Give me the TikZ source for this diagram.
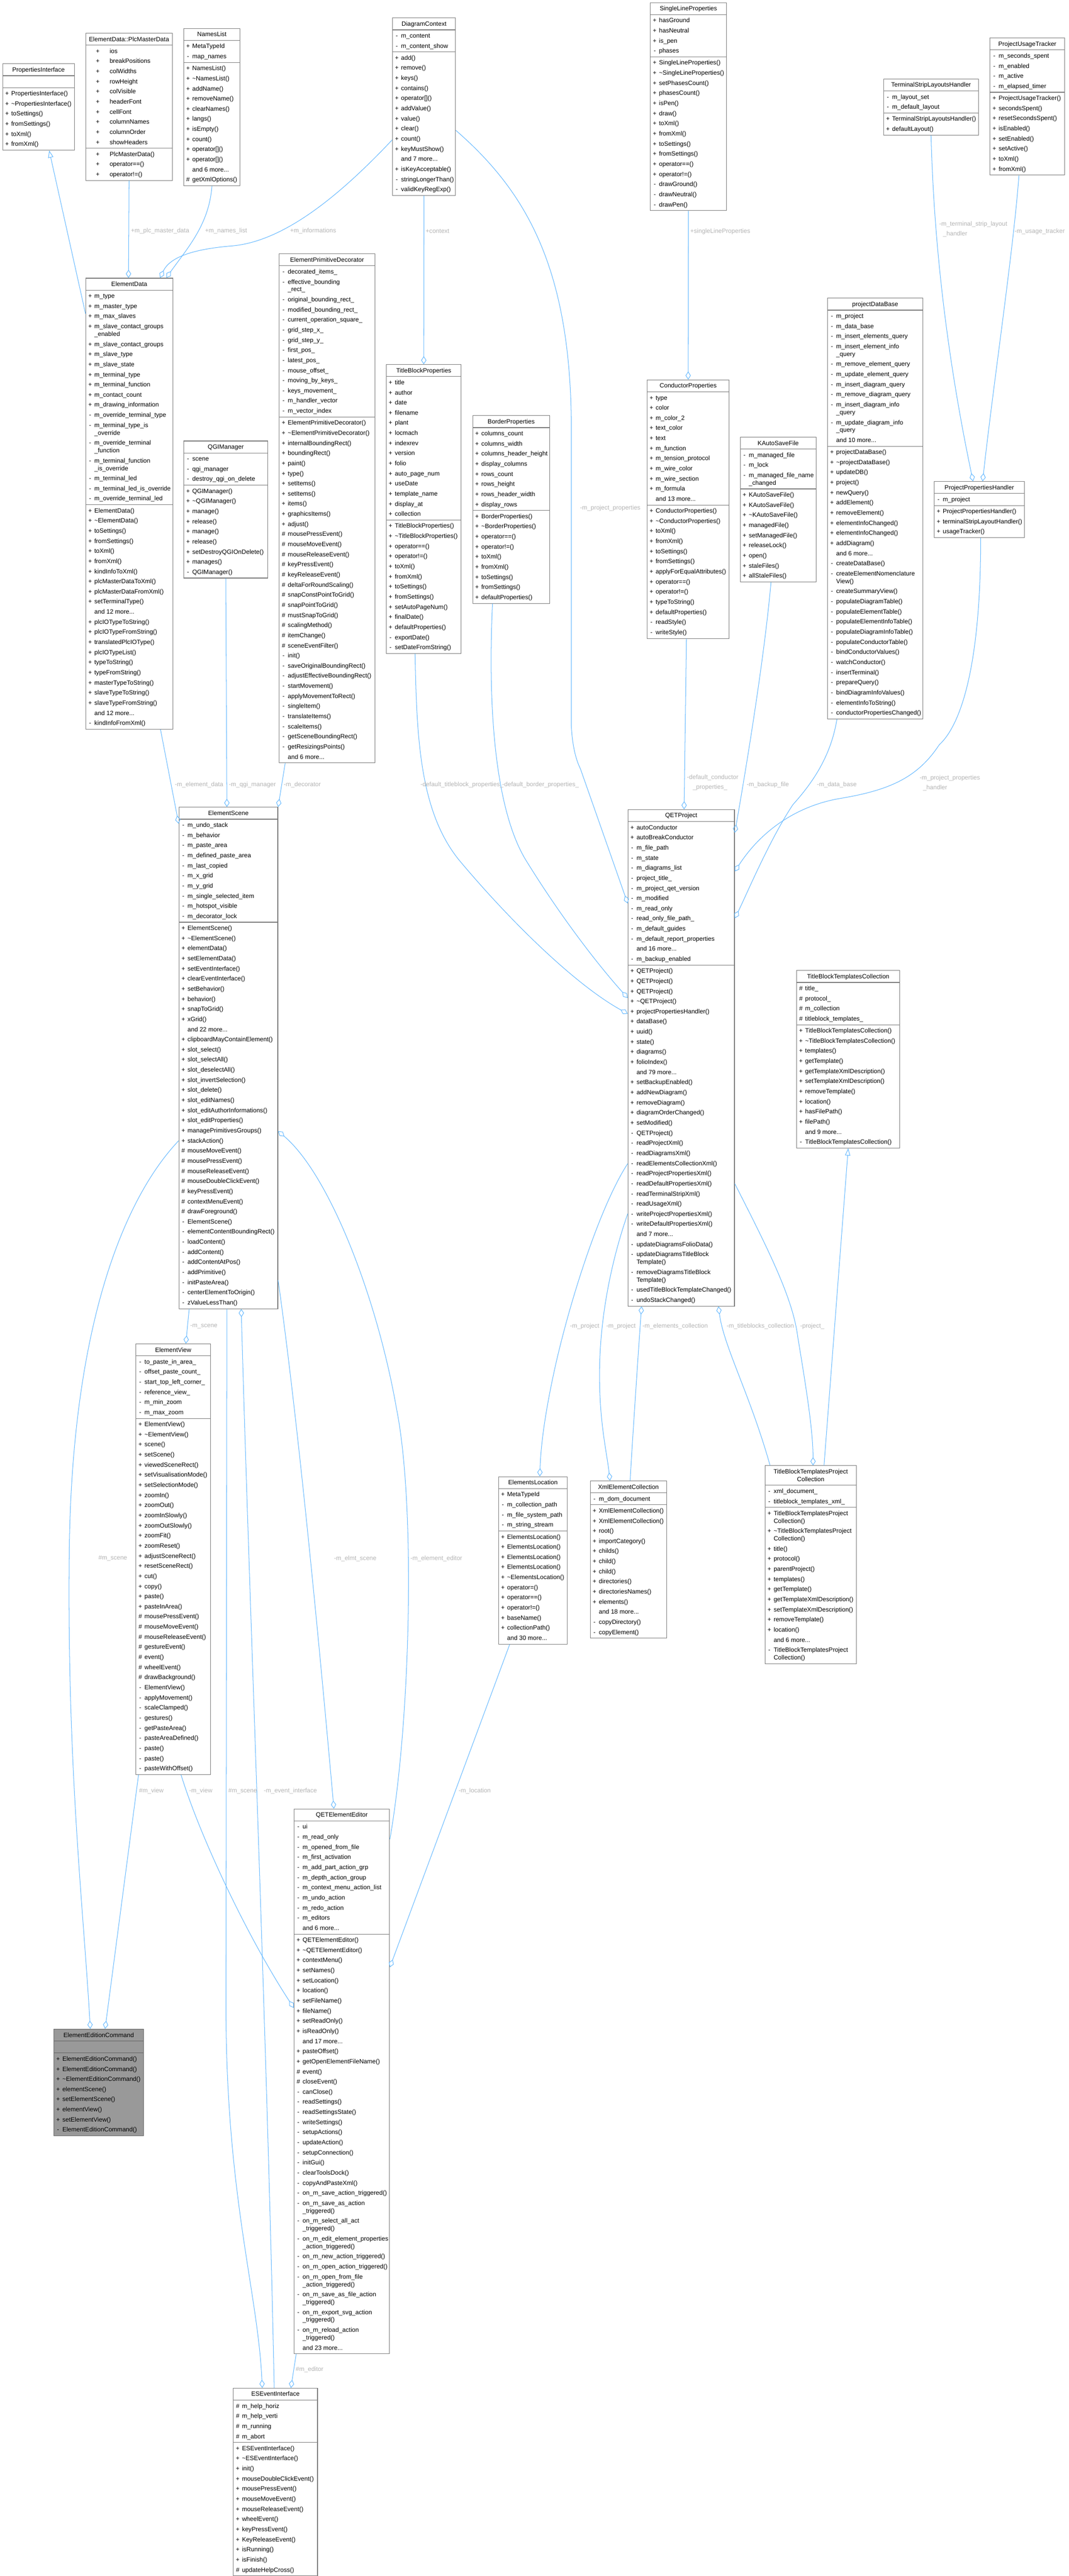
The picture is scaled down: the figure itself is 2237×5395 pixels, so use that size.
\documentclass[tikz,border=0pt]{standalone}
\usepackage{fontspec}
\setmainfont{Liberation Sans}
\usetikzlibrary{shapes.multipart,arrows.meta,calc}
\definecolor{boxc}{HTML}{7A7A7A}
\definecolor{edgec}{HTML}{63B8FF}
\definecolor{lblc}{HTML}{B4B4B4}
\definecolor{curc}{HTML}{999999}
\newcommand\clsfont{\fontsize{13}{21.2}\selectfont}
\newdimen\cwid
\newcommand\R[2]{\hbox to\hsize{\strut\makebox[8pt][c]{#1}\hspace{5pt}#2\hss}}
\newcommand\RW[3]{\R{#1}{#2}\vskip-5.2pt\R{}{#3}}
\newcommand\Rp[1]{\R{+}{#1}}
\newcommand\Rm[1]{\R{-}{#1}}
\newcommand\Rh[1]{\R{\#}{#1}}
\newcommand\Rn[1]{\R{}{#1}}
\newcommand\RQ[2]{\hbox to\hsize{\strut\hspace{15pt}\makebox[10pt][c]{#1}\hspace{20pt}#2\hss}}
\newcommand\E{\hbox to\hsize{\strut\hss}}
\newcommand\TT[1]{\hbox to\hsize{\hss\strut#1\hss}}
\newcommand\PB[1]{\vbox{\clsfont\hsize=\cwid #1}}
\tikzset{
  cls/.style={rectangle split, rectangle split parts=3, draw=boxc, line width=1.2pt,
    fill=white, anchor=north west, inner xsep=5pt, inner ysep=1.3pt, font=\clsfont},
  cur/.style={fill=curc, draw=boxc!80!black},
  edge/.style={draw=edgec, line width=1.1pt},
  agg/.style={edge, -{Diamond[open,length=17pt,width=11pt]}},
  inh/.style={edge, -{Triangle[open,length=15pt,width=11pt]}},
  lbl/.style={font=\clsfont, text=lblc, inner sep=0pt, anchor=west, align=left}
}
\newcommand\umlc[7]{\cwid=\dimexpr#4pt-10pt\relax
  \node[cls] (#1) at (#2,#3) {\PB{#5}\nodepart{two}\PB{#6}\nodepart{three}\PB{#7}};}
\newcommand\umlcg[7]{\cwid=\dimexpr#4pt-10pt\relax
  \node[cls,cur] (#1) at (#2,#3) {\PB{#5}\nodepart{two}\PB{#6}\nodepart{three}\PB{#7}};}
\begin{document}
\catcode`\_=12 \catcode`\~=12
\begin{tikzpicture}[x=1pt,y=-1pt]
\fill[white] (0,0) rectangle (2237,5395);
\useasboundingbox (0,0) rectangle (2237,5395);

% ---------------- classes ----------------
\umlc{PI}{5}{133}{150}{\TT{PropertiesInterface}}{\E}{\Rp{PropertiesInterface()}\Rp{~PropertiesInterface()}\Rp{toSettings()}\Rp{fromSettings()}\Rp{toXml()}\Rp{fromXml()}}

\umlc{PMD}{179}{69}{181}{\TT{ElementData::PlcMasterData}}{\RQ{+}{ios}\RQ{+}{breakPositions}\RQ{+}{colWidths}\RQ{+}{rowHeight}\RQ{+}{colVisible}\RQ{+}{headerFont}\RQ{+}{cellFont}\RQ{+}{columnNames}\RQ{+}{columnOrder}\RQ{+}{showHeaders}}{\RQ{+}{PlcMasterData()}\RQ{+}{operator==()}\RQ{+}{operator!=()}}

\umlc{NL}{384}{59}{118}{\TT{NamesList}}{\Rp{MetaTypeId}\Rm{map_names}}{\Rp{NamesList()}\Rp{~NamesList()}\Rp{addName()}\Rp{removeName()}\Rp{clearNames()}\Rp{langs()}\Rp{isEmpty()}\Rp{count()}\Rp{operator[]()}\Rp{operator[]()}\Rn{and 6 more...}\Rh{getXmlOptions()}}

\umlc{DC}{821}{37}{132}{\TT{DiagramContext}}{\Rm{m_content}\Rm{m_content_show}}{\Rp{add()}\Rp{remove()}\Rp{keys()}\Rp{contains()}\Rp{operator[]()}\Rp{addValue()}\Rp{value()}\Rp{clear()}\Rp{count()}\Rp{keyMustShow()}\Rn{and 7 more...}\Rp{isKeyAcceptable()}\Rm{stringLongerThan()}\Rm{validKeyRegExp()}}

\umlc{SLP}{1361}{5}{159}{\TT{SingleLineProperties}}{\Rp{hasGround}\Rp{hasNeutral}\Rp{is_pen}\Rm{phases}}{\Rp{SingleLineProperties()}\Rp{~SingleLineProperties()}\Rp{setPhasesCount()}\Rp{phasesCount()}\Rp{isPen()}\Rp{draw()}\Rp{toXml()}\Rp{fromXml()}\Rp{toSettings()}\Rp{fromSettings()}\Rp{operator==()}\Rp{operator!=()}\Rm{drawGround()}\Rm{drawNeutral()}\Rm{drawPen()}}

\umlc{TSLH}{1849}{165}{199}{\TT{TerminalStripLayoutsHandler}}{\Rm{m_layout_set}\Rm{m_default_layout}}{\Rp{TerminalStripLayoutsHandler()}\Rp{defaultLayout()}}

\umlc{PUT}{2072}{79}{156}{\TT{ProjectUsageTracker}}{\Rm{m_seconds_spent}\Rm{m_enabled}\Rm{m_active}\Rm{m_elapsed_timer}}{\Rp{ProjectUsageTracker()}\Rp{secondsSpent()}\Rp{resetSecondsSpent()}\Rp{isEnabled()}\Rp{setEnabled()}\Rp{setActive()}\Rp{toXml()}\Rp{fromXml()}}

\umlc{ED}{179}{582}{182}{\TT{ElementData}}{\Rp{m_type}\Rp{m_master_type}\Rp{m_max_slaves}\RW{+}{m_slave_contact_groups}{_enabled}\Rp{m_slave_contact_groups}\Rp{m_slave_type}\Rp{m_slave_state}\Rp{m_terminal_type}\Rp{m_terminal_function}\Rp{m_contact_count}\Rp{m_drawing_information}\Rm{m_override_terminal_type}\RW{-}{m_terminal_type_is}{_override}\RW{-}{m_override_terminal}{_function}\RW{-}{m_terminal_function}{_is_override}\Rm{m_terminal_led}\Rm{m_terminal_led_is_override}\Rm{m_override_terminal_led}}{\Rp{ElementData()}\Rp{~ElementData()}\Rp{toSettings()}\Rp{fromSettings()}\Rp{toXml()}\Rp{fromXml()}\Rp{kindInfoToXml()}\Rp{plcMasterDataToXml()}\Rp{plcMasterDataFromXml()}\Rp{setTerminalType()}\Rn{and 12 more...}\Rp{plcIOTypeToString()}\Rp{plcIOTypeFromString()}\Rp{translatedPlcIOType()}\Rp{plcIOTypeList()}\Rp{typeToString()}\Rp{typeFromString()}\Rp{masterTypeToString()}\Rp{slaveTypeToString()}\Rp{slaveTypeFromString()}\Rn{and 12 more...}\Rm{kindInfoFromXml()}}

\umlc{QGI}{384}{923}{176}{\TT{QGIManager}}{\Rm{scene}\Rm{qgi_manager}\Rm{destroy_qgi_on_delete}}{\Rp{QGIManager()}\Rp{~QGIManager()}\Rp{manage()}\Rp{release()}\Rp{manage()}\Rp{release()}\Rp{setDestroyQGIOnDelete()}\Rp{manages()}\Rm{QGIManager()}}

\umlc{EPD}{584}{531}{200}{\TT{ElementPrimitiveDecorator}}{\Rm{decorated_items_}\RW{-}{effective_bounding}{_rect_}\Rm{original_bounding_rect_}\Rm{modified_bounding_rect_}\Rm{current_operation_square_}\Rm{grid_step_x_}\Rm{grid_step_y_}\Rm{first_pos_}\Rm{latest_pos_}\Rm{mouse_offset_}\Rm{moving_by_keys_}\Rm{keys_movement_}\Rm{m_handler_vector}\Rm{m_vector_index}}{\Rp{ElementPrimitiveDecorator()}\Rp{~ElementPrimitiveDecorator()}\Rp{internalBoundingRect()}\Rp{boundingRect()}\Rp{paint()}\Rp{type()}\Rp{setItems()}\Rp{setItems()}\Rp{items()}\Rp{graphicsItems()}\Rp{adjust()}\Rh{mousePressEvent()}\Rh{mouseMoveEvent()}\Rh{mouseReleaseEvent()}\Rh{keyPressEvent()}\Rh{keyReleaseEvent()}\Rh{deltaForRoundScaling()}\Rh{snapConstPointToGrid()}\Rh{snapPointToGrid()}\Rh{mustSnapToGrid()}\Rh{scalingMethod()}\Rh{itemChange()}\Rh{sceneEventFilter()}\Rm{init()}\Rm{saveOriginalBoundingRect()}\Rm{adjustEffectiveBoundingRect()}\Rm{startMovement()}\Rm{applyMovementToRect()}\Rm{singleItem()}\Rm{translateItems()}\Rm{scaleItems()}\Rm{getSceneBoundingRect()}\Rm{getResizingsPoints()}\Rn{and 6 more...}}

\umlc{TBP}{808}{763}{157}{\TT{TitleBlockProperties}}{\Rp{title}\Rp{author}\Rp{date}\Rp{filename}\Rp{plant}\Rp{locmach}\Rp{indexrev}\Rp{version}\Rp{folio}\Rp{auto_page_num}\Rp{useDate}\Rp{template_name}\Rp{display_at}\Rp{collection}}{\Rp{TitleBlockProperties()}\Rp{~TitleBlockProperties()}\Rp{operator==()}\Rp{operator!=()}\Rp{toXml()}\Rp{fromXml()}\Rp{toSettings()}\Rp{fromSettings()}\Rp{setAutoPageNum()}\Rp{finalDate()}\Rp{defaultProperties()}\Rm{exportDate()}\Rm{setDateFromString()}}

\umlc{BP}{989}{870}{161}{\TT{BorderProperties}}{\Rp{columns_count}\Rp{columns_width}\Rp{columns_header_height}\Rp{display_columns}\Rp{rows_count}\Rp{rows_height}\Rp{rows_header_width}\Rp{display_rows}}{\Rp{BorderProperties()}\Rp{~BorderProperties()}\Rp{operator==()}\Rp{operator!=()}\Rp{toXml()}\Rp{fromXml()}\Rp{toSettings()}\Rp{fromSettings()}\Rp{defaultProperties()}}

\umlc{CP}{1354}{795}{172}{\TT{ConductorProperties}}{\Rp{type}\Rp{color}\Rp{m_color_2}\Rp{text_color}\Rp{text}\Rp{m_function}\Rp{m_tension_protocol}\Rp{m_wire_color}\Rp{m_wire_section}\Rp{m_formula}\Rn{and 13 more...}}{\Rp{ConductorProperties()}\Rp{~ConductorProperties()}\Rp{toXml()}\Rp{fromXml()}\Rp{toSettings()}\Rp{fromSettings()}\Rp{applyForEqualAttributes()}\Rp{operator==()}\Rp{operator!=()}\Rp{typeToString()}\Rp{defaultProperties()}\Rm{readStyle()}\Rm{writeStyle()}}

\umlc{KAS}{1549}{915}{159}{\TT{KAutoSaveFile}}{\Rm{m_managed_file}\Rm{m_lock}\RW{-}{m_managed_file_name}{_changed}}{\Rp{KAutoSaveFile()}\Rp{KAutoSaveFile()}\Rp{~KAutoSaveFile()}\Rp{managedFile()}\Rp{setManagedFile()}\Rp{releaseLock()}\Rp{open()}\Rp{staleFiles()}\Rp{allStaleFiles()}}

\umlc{PDB}{1732}{624}{199}{\TT{projectDataBase}}{\Rm{m_project}\Rm{m_data_base}\Rm{m_insert_elements_query}\RW{-}{m_insert_element_info}{_query}\Rm{m_remove_element_query}\Rm{m_update_element_query}\Rm{m_insert_diagram_query}\Rm{m_remove_diagram_query}\RW{-}{m_insert_diagram_info}{_query}\RW{-}{m_update_diagram_info}{_query}\Rn{and 10 more...}}{\Rp{projectDataBase()}\Rp{~projectDataBase()}\Rp{updateDB()}\Rp{project()}\Rp{newQuery()}\Rp{addElement()}\Rp{removeElement()}\Rp{elementInfoChanged()}\Rp{elementInfoChanged()}\Rp{addDiagram()}\Rn{and 6 more...}\Rm{createDataBase()}\RW{-}{createElementNomenclature}{View()}\Rm{createSummaryView()}\Rm{populateDiagramTable()}\Rm{populateElementTable()}\Rm{populateElementInfoTable()}\Rm{populateDiagramInfoTable()}\Rm{populateConductorTable()}\Rm{bindConductorValues()}\Rm{watchConductor()}\Rm{insertTerminal()}\Rm{prepareQuery()}\Rm{bindDiagramInfoValues()}\Rm{elementInfoToString()}\Rm{conductorPropertiesChanged()}}

\umlc{PPH}{1955}{1008}{189}{\TT{ProjectPropertiesHandler}}{\Rm{m_project}}{\Rp{ProjectPropertiesHandler()}\Rp{terminalStripLayoutHandler()}\Rp{usageTracker()}}

\umlc{ES}{374}{1690}{207}{\TT{ElementScene}}{\Rm{m_undo_stack}\Rm{m_behavior}\Rm{m_paste_area}\Rm{m_defined_paste_area}\Rm{m_last_copied}\Rm{m_x_grid}\Rm{m_y_grid}\Rm{m_single_selected_item}\Rm{m_hotspot_visible}\Rm{m_decorator_lock}}{\Rp{ElementScene()}\Rp{~ElementScene()}\Rp{elementData()}\Rp{setElementData()}\Rp{setEventInterface()}\Rp{clearEventInterface()}\Rp{setBehavior()}\Rp{behavior()}\Rp{snapToGrid()}\Rp{xGrid()}\Rn{and 22 more...}\Rp{clipboardMayContainElement()}\Rp{slot_select()}\Rp{slot_selectAll()}\Rp{slot_deselectAll()}\Rp{slot_invertSelection()}\Rp{slot_delete()}\Rp{slot_editNames()}\Rp{slot_editAuthorInformations()}\Rp{slot_editProperties()}\Rp{managePrimitivesGroups()}\Rp{stackAction()}\Rh{mouseMoveEvent()}\Rh{mousePressEvent()}\Rh{mouseReleaseEvent()}\Rh{mouseDoubleClickEvent()}\Rh{keyPressEvent()}\Rh{contextMenuEvent()}\Rh{drawForeground()}\Rm{ElementScene()}\Rm{elementContentBoundingRect()}\Rm{loadContent()}\Rm{addContent()}\Rm{addContentAtPos()}\Rm{addPrimitive()}\Rm{initPasteArea()}\Rm{centerElementToOrigin()}\Rm{zValueLessThan()}}

\umlc{QP}{1314}{1695}{223}{\TT{QETProject}}{\Rp{autoConductor}\Rp{autoBreakConductor}\Rm{m_file_path}\Rm{m_state}\Rm{m_diagrams_list}\Rm{project_title_}\Rm{m_project_qet_version}\Rm{m_modified}\Rm{m_read_only}\Rm{read_only_file_path_}\Rm{m_default_guides}\Rm{m_default_report_properties}\Rn{and 16 more...}\Rm{m_backup_enabled}}{\Rp{QETProject()}\Rp{QETProject()}\Rp{QETProject()}\Rp{~QETProject()}\Rp{projectPropertiesHandler()}\Rp{dataBase()}\Rp{uuid()}\Rp{state()}\Rp{diagrams()}\Rp{folioIndex()}\Rn{and 79 more...}\Rp{setBackupEnabled()}\Rp{addNewDiagram()}\Rp{removeDiagram()}\Rp{diagramOrderChanged()}\Rp{setModified()}\Rm{QETProject()}\Rm{readProjectXml()}\Rm{readDiagramsXml()}\Rm{readElementsCollectionXml()}\Rm{readProjectPropertiesXml()}\Rm{readDefaultPropertiesXml()}\Rm{readTerminalStripXml()}\Rm{readUsageXml()}\Rm{writeProjectPropertiesXml()}\Rm{writeDefaultPropertiesXml()}\Rn{and 7 more...}\Rm{updateDiagramsFolioData()}\RW{-}{updateDiagramsTitleBlock}{Template()}\RW{-}{removeDiagramsTitleBlock}{Template()}\Rm{usedTitleBlockTemplateChanged()}\Rm{undoStackChanged()}}

\umlc{TBTC}{1667}{2032}{216}{\TT{TitleBlockTemplatesCollection}}{\Rh{title_}\Rh{protocol_}\Rh{m_collection}\Rh{titleblock_templates_}}{\Rp{TitleBlockTemplatesCollection()}\Rp{~TitleBlockTemplatesCollection()}\Rp{templates()}\Rp{getTemplate()}\Rp{getTemplateXmlDescription()}\Rp{setTemplateXmlDescription()}\Rp{removeTemplate()}\Rp{location()}\Rp{hasFilePath()}\Rp{filePath()}\Rn{and 9 more...}\Rm{TitleBlockTemplatesCollection()}}

\umlc{EV}{284}{2814}{156}{\TT{ElementView}}{\Rm{to_paste_in_area_}\Rm{offset_paste_count_}\Rm{start_top_left_corner_}\Rm{reference_view_}\Rm{m_min_zoom}\Rm{m_max_zoom}}{\Rp{ElementView()}\Rp{~ElementView()}\Rp{scene()}\Rp{setScene()}\Rp{viewedSceneRect()}\Rp{setVisualisationMode()}\Rp{setSelectionMode()}\Rp{zoomIn()}\Rp{zoomOut()}\Rp{zoomInSlowly()}\Rp{zoomOutSlowly()}\Rp{zoomFit()}\Rp{zoomReset()}\Rp{adjustSceneRect()}\Rp{resetSceneRect()}\Rp{cut()}\Rp{copy()}\Rp{paste()}\Rp{pasteInArea()}\Rh{mousePressEvent()}\Rh{mouseMoveEvent()}\Rh{mouseReleaseEvent()}\Rh{gestureEvent()}\Rh{event()}\Rh{wheelEvent()}\Rh{drawBackground()}\Rm{ElementView()}\Rm{applyMovement()}\Rm{scaleClamped()}\Rm{gestures()}\Rm{getPasteArea()}\Rm{pasteAreaDefined()}\Rm{paste()}\Rm{paste()}\Rm{pasteWithOffset()}}

\umlc{EL}{1043}{3092}{144}{\TT{ElementsLocation}}{\Rp{MetaTypeId}\Rm{m_collection_path}\Rm{m_file_system_path}\Rm{m_string_stream}}{\Rp{ElementsLocation()}\Rp{ElementsLocation()}\Rp{ElementsLocation()}\Rp{ElementsLocation()}\Rp{~ElementsLocation()}\Rp{operator=()}\Rp{operator==()}\Rp{operator!=()}\Rp{baseName()}\Rp{collectionPath()}\Rn{and 30 more...}}

\umlc{XEC}{1235}{3101}{160}{\TT{XmlElementCollection}}{\Rm{m_dom_document}}{\Rp{XmlElementCollection()}\Rp{XmlElementCollection()}\Rp{root()}\Rp{importCategory()}\Rp{childs()}\Rp{child()}\Rp{child()}\Rp{directories()}\Rp{directoriesNames()}\Rp{elements()}\Rn{and 18 more...}\Rm{copyDirectory()}\Rm{copyElement()}}

\umlc{TBTPC}{1601}{3069}{191}{\TT{TitleBlockTemplatesProject}\vskip-5.2pt\TT{Collection}}{\Rm{xml_document_}\Rm{titleblock_templates_xml_}}{\RW{+}{TitleBlockTemplatesProject}{Collection()}\RW{+}{~TitleBlockTemplatesProject}{Collection()}\Rp{title()}\Rp{protocol()}\Rp{parentProject()}\Rp{templates()}\Rp{getTemplate()}\Rp{getTemplateXmlDescription()}\Rp{setTemplateXmlDescription()}\Rp{removeTemplate()}\Rp{location()}\Rn{and 6 more...}\RW{-}{TitleBlockTemplatesProject}{Collection()}}

\umlc{QEE}{615}{3788}{200}{\TT{QETElementEditor}}{\Rm{ui}\Rm{m_read_only}\Rm{m_opened_from_file}\Rm{m_first_activation}\Rm{m_add_part_action_grp}\Rm{m_depth_action_group}\Rm{m_context_menu_action_list}\Rm{m_undo_action}\Rm{m_redo_action}\Rm{m_editors}\Rn{and 6 more...}}{\Rp{QETElementEditor()}\Rp{~QETElementEditor()}\Rp{contextMenu()}\Rp{setNames()}\Rp{setLocation()}\Rp{location()}\Rp{setFileName()}\Rp{fileName()}\Rp{setReadOnly()}\Rp{isReadOnly()}\Rn{and 17 more...}\Rp{pasteOffset()}\Rp{getOpenElementFileName()}\Rh{event()}\Rh{closeEvent()}\Rm{canClose()}\Rm{readSettings()}\Rm{readSettingsState()}\Rm{writeSettings()}\Rm{setupActions()}\Rm{updateAction()}\Rm{setupConnection()}\Rm{initGui()}\Rm{clearToolsDock()}\Rm{copyAndPasteXml()}\Rm{on_m_save_action_triggered()}\RW{-}{on_m_save_as_action}{_triggered()}\RW{-}{on_m_select_all_act}{_triggered()}\RW{-}{on_m_edit_element_properties}{_action_triggered()}\Rm{on_m_new_action_triggered()}\Rm{on_m_open_action_triggered()}\RW{-}{on_m_open_from_file}{_action_triggered()}\RW{-}{on_m_save_as_file_action}{_triggered()}\RW{-}{on_m_export_svg_action}{_triggered()}\RW{-}{on_m_reload_action}{_triggered()}\Rn{and 23 more...}}

\umlcg{EEC}{112}{4249}{188}{\TT{ElementEditionCommand}}{\E}{\Rp{ElementEditionCommand()}\Rp{ElementEditionCommand()}\Rp{~ElementEditionCommand()}\Rp{elementScene()}\Rp{setElementScene()}\Rp{elementView()}\Rp{setElementView()}\Rm{ElementEditionCommand()}}

\umlc{ESI}{488}{5001}{176}{\TT{ESEventInterface}}{\Rh{m_help_horiz}\Rh{m_help_verti}\Rh{m_running}\Rh{m_abort}}{\Rp{ESEventInterface()}\Rp{~ESEventInterface()}\Rp{init()}\Rp{mouseDoubleClickEvent()}\Rp{mousePressEvent()}\Rp{mouseMoveEvent()}\Rp{mouseReleaseEvent()}\Rp{wheelEvent()}\Rp{keyPressEvent()}\Rp{KeyReleaseEvent()}\Rp{isRunning()}\Rp{isFinish()}\Rh{updateHelpCross()}}

% ---------------- connectors ----------------
\draw[inh] ($(ED.north west)+(0,75)$) -- ($(PI.south west)+(98,0)$);
\draw[agg] (PMD.south) -- ($(ED.north west)+(90,0)$);
\draw[agg] (NL.south) .. controls (438,470) and (392,520) .. ($(ED.north west)+(169,0)$);
\draw[agg] ($(DC.north west)+(0,256)$) .. controls (720,400) and (600,505) .. (486,515) .. controls (400,522) and (355,540) .. ($(ED.north west)+(156,0)$);
\draw[agg] (DC.south) -- (TBP.north);
\draw[agg] ($(DC.north east)+(0,236)$) .. controls (1100,400) and (1196,560) .. (1196,900) -- (1196,1520) .. controls (1198,1560) and (1205,1590) .. (1215,1610) -- ($(QP.north west)+(0,197)$);
\draw[agg] ($(BP.south west)+(42,0)$) .. controls (1020,1500) and (1040,1700) .. (1100,1800) .. controls (1180,1930) and (1260,2030) .. ($(QP.north west)+(0,395)$);
\draw[agg] ($(TBP.south west)+(61,0)$) .. controls (872,1550) and (880,1700) .. (960,1800) .. controls (1060,1920) and (1200,2060) .. ($(QP.north west)+(0,428)$);
\draw[agg] ($(CP.south west)+(83,0)$) -- ($(QP.north west)+(118,0)$);
\draw[agg] (SLP.south) -- (CP.north);
\draw[agg] ($(KAS.south west)+(65,0)$) .. controls (1600,1380) and (1560,1620) .. ($(QP.north east)+(0,49)$);
\draw[agg] ($(PDB.south west)+(20,0)$) .. controls (1740,1580) and (1705,1635) .. (1660,1685) .. controls (1610,1760) and (1560,1880) .. ($(QP.north east)+(0,228)$);
\draw[agg] ($(PPH.south west)+(98,0)$) .. controls (2053,1400) and (2010,1520) .. (1966,1560) .. controls (1920,1630) and (1860,1655) .. (1760,1672) .. controls (1680,1685) and (1600,1730) .. ($(QP.north east)+(0,130)$);
\draw[agg] (TSLH.south) .. controls (1955,520) and (1985,760) .. ($(PPH.north west)+(82,0)$);
\draw[agg] ($(PUT.south west)+(61,0)$) .. controls (2122,520) and (2080,800) .. ($(PPH.north west)+(102,0)$);
\draw[agg] (QGI.south) -- ($(ES.north west)+(101,0)$);
\draw[agg] ($(ED.south west)+(157,0)$) -- ($(ES.north west)+(0,35)$);
\draw[agg] ($(EPD.south west)+(13,0)$) -- (ES.north east);
\draw[agg] ($(QP.north west)+(0,742)$) .. controls (1260,2520) and (1200,2700) .. (1165,2850) .. controls (1140,2960) and (1132,3030) .. ($(EL.north west)+(87,0)$);
\draw[agg] ($(QP.north west)+(0,847)$) .. controls (1280,2640) and (1255,2760) .. (1255,2880) .. controls (1255,2980) and (1270,3040) .. ($(XEC.north west)+(42,0)$);
\draw[agg] ($(XEC.north west)+(84,0)$) .. controls (1325,3000) and (1335,2850) .. ($(QP.south west)+(29,0)$);
\draw[agg] ($(TBTPC.north west)+(11,0)$) .. controls (1570,2920) and (1515,2820) .. ($(QP.south west)+(190,0)$);
\draw[agg] ($(QP.north east)+(0,784)$) .. controls (1610,2620) and (1660,2720) .. (1670,2800) .. controls (1690,2920) and (1702,3000) .. ($(TBTPC.north west)+(101,0)$);
\draw[inh] ($(TBTPC.north west)+(124,0)$) -- (TBTC.south);
\draw[agg] ($(ES.south west)+(22,0)$) -- ($(EV.north west)+(105,0)$);
\draw[agg] ($(ES.north west)+(0,699)$) .. controls (250,2520) and (150,2800) .. (145,3250) .. controls (140,3700) and (175,4000) .. ($(EEC.north west)+(77,0)$);
\draw[agg] ($(EV.south west)+(6,0)$) -- ($(EEC.north west)+(108,0)$);
\draw[agg] ($(EV.south west)+(95,0)$) .. controls (420,3850) and (520,4060) .. ($(QEE.north west)+(0,417)$);
\draw[agg] ($(ES.south west)+(101,0)$) -- (473,4200) .. controls (473,4600) and (540,4800) .. ($(ESI.north west)+(61,0)$);
\draw[agg] ($(ESI.north west)+(86,0)$) .. controls (560,4300) and (520,3300) .. ($(ES.south west)+(131,0)$);
\draw[agg] ($(QEE.south west)+(5,0)$) -- ($(ESI.north west)+(121,0)$);
\draw[agg] ($(ES.north east)+(0,991)$) .. controls (620,2950) and (660,3350) .. ($(QEE.north west)+(84,0)$);
\draw[agg] ($(QEE.north east)+(0,64)$) .. controls (860,3600) and (870,3150) .. (830,2950) .. controls (790,2720) and (690,2460) .. ($(ES.north east)+(0,679)$);
\draw[agg] ($(EL.south west)+(24,0)$) -- ($(QEE.north east)+(0,332)$);

% ---------------- labels ----------------
\node[lbl] (l1) at (274,484) {+m_plc_master_data};
\node[lbl] (l2) at (429,484) {+m_names_list};
\node[lbl] (l3) at (607,484) {+m_informations};
\node[lbl] (l4) at (891,484) {+context};
\node[lbl] (l5) at (1445,485) {+singleLineProperties};
\node[lbl,anchor=north west] (l6) at (1966,463) {-m_terminal_strip_layout\\\hspace*{8pt}_handler};
\node[lbl] (l7) at (2124,485) {-m_usage_tracker};
\node[lbl] (l8) at (1214,1064) {-m_project_properties};
\node[lbl] (l9) at (366,1644) {-m_element_data};
\node[lbl] (l10) at (479,1644) {-m_qgi_manager};
\node[lbl] (l11) at (594,1644) {-m_decorator};
\node[lbl] (l12) at (880,1644) {-default_titleblock_properties_};
\node[lbl,anchor=east] (l13) at (1212,1644) {-default_border_properties_};
\node[lbl,anchor=north west] (l14) at (1438,1622) {-default_conductor\\\hspace*{12pt}_properties_};
\node[lbl] (l15) at (1563,1644) {-m_backup_file};
\node[lbl] (l16) at (1710,1644) {-m_data_base};
\node[lbl,anchor=north west] (l17) at (1925,1623) {-m_project_properties\\\hspace*{7pt}_handler};
\node[lbl] (l18) at (398,2778) {-m_scene};
\node[lbl] (l19) at (1193,2778) {-m_project};
\node[lbl] (l20) at (1269,2778) {-m_project};
\node[lbl] (l21) at (1345,2778) {-m_elements_collection};
\node[lbl] (l22) at (1521,2778) {-m_titleblocks_collection};
\node[lbl] (l23) at (1675,2778) {-project_};
\node[lbl] (l24) at (206,3264) {\#m_scene};
\node[lbl] (l25) at (699,3264) {-m_elmt_scene};
\node[lbl] (l26) at (859,3264) {-m_element_editor};
\node[lbl] (l27) at (291,3751) {\#m_view};
\node[lbl] (l28) at (396,3751) {-m_view};
\node[lbl] (l29) at (478,3751) {\#m_scene};
\node[lbl] (l30) at (552,3751) {-m_event_interface};
\node[lbl] (l31) at (960,3751) {-m_location};
\node[lbl] (l32) at (619,4963) {\#m_editor};
\end{tikzpicture}
\end{document}
